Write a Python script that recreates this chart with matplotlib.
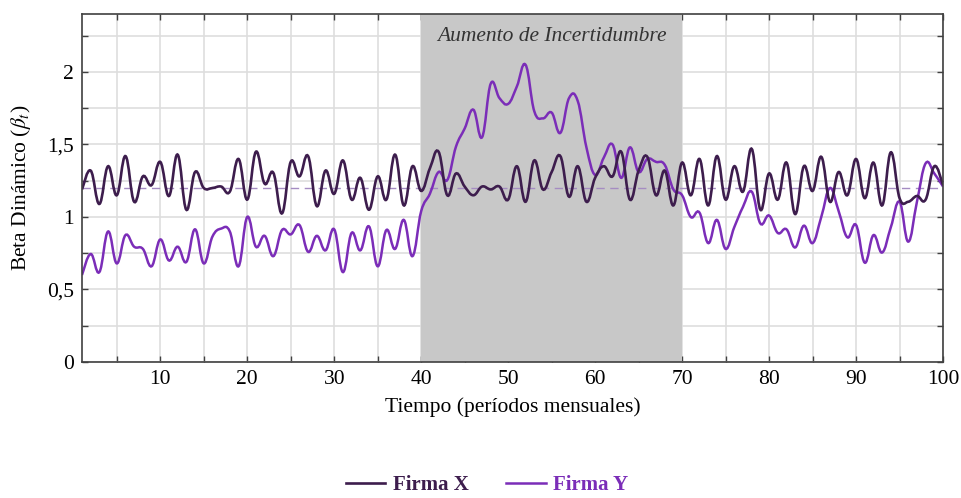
import numpy as np
import matplotlib
matplotlib.use('Agg')
import matplotlib.pyplot as plt
from matplotlib.path import Path
from matplotlib.patches import PathPatch
from matplotlib.lines import Line2D
from matplotlib.ticker import MultipleLocator, FuncFormatter

# datos (t = 1..100)
periodos = list(range(1, 101))
firma_x = [
    1.19, 1.32, 1.09, 1.35, 1.15, 1.42, 1.105, 1.28, 1.22, 1.38,
    1.145, 1.43, 1.05, 1.31, 1.20, 1.20, 1.21, 1.175, 1.40, 1.12,
    1.45, 1.23, 1.305, 1.025, 1.38, 1.28, 1.42, 1.075, 1.32, 1.16,
    1.39, 1.12, 1.27, 1.05, 1.28, 1.12, 1.43, 1.08, 1.35, 1.18,
    1.335, 1.45, 1.15, 1.30, 1.21, 1.15, 1.21, 1.19, 1.21, 1.12,
    1.35, 1.105, 1.39, 1.19, 1.31, 1.42, 1.14, 1.35, 1.105, 1.27,
    1.35, 1.28, 1.45, 1.12, 1.32, 1.415, 1.15, 1.32, 1.08, 1.375,
    1.15, 1.40, 1.08, 1.42, 1.12, 1.35, 1.175, 1.47, 1.05, 1.30,
    1.12, 1.375, 1.02, 1.35, 1.18, 1.415, 1.105, 1.31, 1.15, 1.40,
    1.13, 1.375, 1.08, 1.446, 1.13, 1.105, 1.145, 1.12, 1.35, 1.22,
]
firma_y = [
    0.60, 0.745, 0.62, 0.90, 0.68, 0.875, 0.795, 0.78, 0.66, 0.845,
    0.70, 0.795, 0.69, 0.915, 0.68, 0.865, 0.92, 0.90, 0.66, 1.00,
    0.795, 0.87, 0.73, 0.91, 0.88, 0.945, 0.76, 0.87, 0.77, 0.915,
    0.62, 0.89, 0.77, 0.935, 0.66, 0.91, 0.78, 0.98, 0.73, 1.04,
    1.16, 1.31, 1.255, 1.485, 1.61, 1.74, 1.55, 1.92, 1.82, 1.78,
    1.90, 2.05, 1.73, 1.68, 1.72, 1.58, 1.82, 1.80, 1.48, 1.29,
    1.41, 1.50, 1.27, 1.48, 1.31, 1.40, 1.38, 1.36, 1.19, 1.15,
    1.00, 1.03, 0.82, 0.98, 0.78, 0.93, 1.07, 1.175, 0.955, 1.01,
    0.89, 0.915, 0.79, 0.94, 0.82, 1.00, 1.20, 1.04, 0.86, 0.945,
    0.685, 0.875, 0.755, 0.93, 1.105, 0.83, 1.105, 1.37, 1.30, 1.21,
]
beta_ref = 1.2
periodo_incertidumbre = (40, 70)

col_x = '#3d1d4d'
col_y = '#7b2db8'


def smooth_path(xs, ys, k=0.2):
    # curva suave tipo "smooth" de pgfplots con beziers cúbicas
    pts = np.column_stack([xs, ys]).astype(float)
    n = len(pts)
    verts = [pts[0]]
    codes = [Path.MOVETO]
    for i in range(n - 1):
        prev = pts[max(i - 1, 0)]
        nxt = pts[min(i + 2, n - 1)]
        c1 = pts[i] + k * (pts[i + 1] - prev)
        c2 = pts[i + 1] - k * (nxt - pts[i])
        verts += [c1, c2, pts[i + 1]]
        codes += [Path.CURVE4] * 3
    return Path(verts, codes)


plt.rcParams['font.family'] = ['Liberation Serif', 'DejaVu Serif']
plt.rcParams['mathtext.fontset'] = 'stix'
fs = 15.5

fig = plt.figure(figsize=(9.61, 4.98), dpi=100)
ax = fig.add_axes([0.0853, 0.2731, 0.8960, 0.6988])

ax.axvspan(*periodo_incertidumbre, color='#c8c8c8', zorder=1, lw=0)
ax.axhline(beta_ref, color='#a58cc2', lw=1.0, ls=(0, (6, 4)), zorder=2)

ax.add_patch(PathPatch(smooth_path(periodos, firma_y), fill=False,
                       edgecolor=col_y, lw=1.8, zorder=3))
ax.add_patch(PathPatch(smooth_path(periodos, firma_x), fill=False,
                       edgecolor=col_x, lw=1.9, zorder=4))

ax.text(55, 2.245, 'Aumento de Incertidumbre', style='italic',
        ha='center', va='center', fontsize=fs, color='#333333', zorder=5)

ax.set_xlim(1, 100)
ax.set_ylim(0, 2.4)
ax.xaxis.set_major_locator(MultipleLocator(10))
ax.xaxis.set_minor_locator(MultipleLocator(5))
ax.yaxis.set_major_locator(MultipleLocator(0.5))
ax.yaxis.set_minor_locator(MultipleLocator(0.25))
ax.yaxis.set_major_formatter(FuncFormatter(
    lambda v, p: ('%g' % v).replace('.', ',')))

ax.set_axisbelow(True)
ax.grid(True, which='both', color='#dedede', lw=1.2)
ax.tick_params(which='both', direction='in', top=True, right=True,
               length=4, width=1, color='#404040', labelsize=fs, pad=6)
for s in ax.spines.values():
    s.set_color('#404040')
    s.set_linewidth(1.2)
    s.set_zorder(6)

ax.set_xlabel('Tiempo (períodos mensuales)', fontsize=fs, labelpad=6)
ax.set_ylabel(r'Beta Dinámico ($\beta_t$)', fontsize=fs, labelpad=10)

handles = [Line2D([], [], color=col_x, lw=1.9),
           Line2D([], [], color=col_y, lw=1.8)]
leg = fig.legend(handles, ['Firma X', 'Firma Y'], loc='center',
                 bbox_to_anchor=(487 / 961, 1 - 485 / 498), ncol=2,
                 frameon=False, handlelength=1.9, handletextpad=0.35,
                 columnspacing=1.8, borderpad=0.2,
                 prop={'weight': 'bold', 'size': 15})
for txt, c in zip(leg.get_texts(), [col_x, col_y]):
    txt.set_color(c)

fig.savefig('out.png', dpi=100)
